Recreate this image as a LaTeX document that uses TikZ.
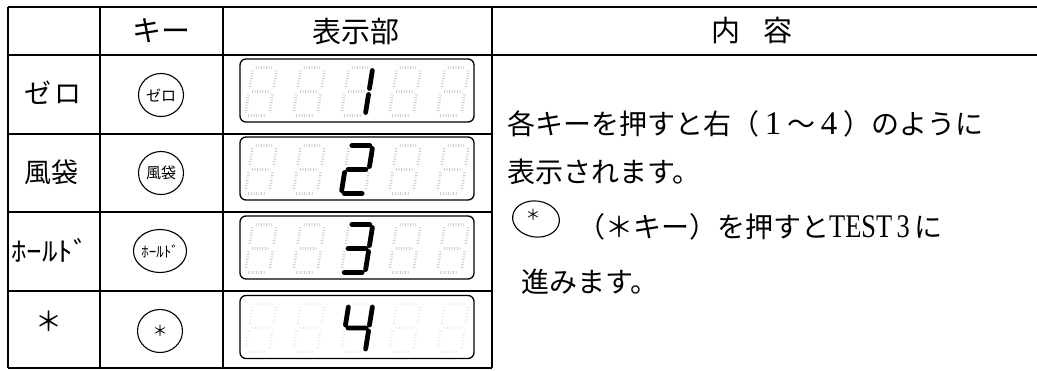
\documentclass[tikz,border=0pt]{standalone}
\usepackage{fontspec}
\usepackage{graphicx}
\usetikzlibrary{shapes.geometric}
\setmainfont{Liberation Serif}
\newfontfamily\jp{Noto Sans CJK JP}
\newfontfamily\lser{Liberation Serif}
\newcommand\fwd[1]{\makebox[1em]{\lser\fontsize{33}{33}\selectfont #1}}
\newcommand\SA{(-9,-24) -- (9,-24)}
\newcommand\SB{(12,-21) -- (12,-3)}
\newcommand\SC{(12,3) -- (12,21)}
\newcommand\SD{(-9,24) -- (9,24)}
\newcommand\SE{(-12,3) -- (-12,21)}
\newcommand\SF{(-12,-21) -- (-12,-3)}
\newcommand\SG{(-9,0) -- (9,0)}
\newcommand\ghostdigit[3]{\begin{scope}[shift={(#1,#2)},xslant=0.16]\draw[#3] \SA \SB \SC \SD \SE \SF \SG;\end{scope}}
\newcommand\litdigit[3]{\begin{scope}[shift={(#1,#2)},xslant=0.16]\draw[litseg] #3;\end{scope}}
\tikzset{
  rule/.style={line width=1.6pt, black},
  dispbox/.style={draw, line width=1.3pt, rounded corners=6pt},
  keycirc/.style={draw, ellipse, line width=1.1pt, minimum width=45pt, minimum height=43pt, inner sep=0pt, font=\jp\fontsize{15}{15}\selectfont},
  hdr/.style={font=\jp\fontsize{29}{32}\selectfont, inner sep=0pt},
  lbl/.style={font=\jp\fontsize{27}{30}\selectfont, inner sep=0pt},
  body/.style={font=\jp\fontsize{28}{30}\selectfont, inner sep=0pt, anchor=west},
  ghost/.style={draw=gray!45, line width=2.6pt, dash pattern=on 0.8pt off 1.8pt},
  ghostfaint/.style={draw=gray!22, line width=2.4pt, dash pattern=on 0.8pt off 2.4pt},
  litseg/.style={draw=black, line width=4.8pt, line cap=round},
}
\begin{document}
\begin{tikzpicture}[x=1pt,y=-1pt]
\useasboundingbox (0,0) rectangle (1037,370);
\fill[white] (0,0) rectangle (1037,370);
% table rules
\draw[rule] (8,7) -- (1037,7);
\draw[rule] (8,55) -- (1037,55);
\draw[rule] (8,134) -- (492,134);
\draw[rule] (8,212) -- (492,212);
\draw[rule] (8,291) -- (492,291);
\draw[rule] (8,368) -- (492,368);
\draw[rule] (8,7) -- (8,368);
\draw[rule] (100,7) -- (100,368);
\draw[rule] (223,7) -- (223,368);
\draw[rule] (492,7) -- (492,368);
% header
\node[hdr] (hkey) at (161,31) {キー};
\node[hdr] (hdisp) at (356,31) {表示部};
\node[hdr] (hcont) at (752,31) {内\hspace{0.8em}容};
% column 1
\node[lbl] (n1) at (53,93) {ゼ\hspace{4pt}ロ};
\node[lbl] (n2) at (51,172) {風袋};
\node[lbl, xscale=1.15] (n3) at (50,250) {ﾎｰﾙﾄﾞ};
\node[lbl] (n4) at (49,321) {＊};
% key circles
\node[keycirc] (k1) at (161,95) {ゼロ};
\node[keycirc] (k2) at (161,173) {風袋};
\node[keycirc] (k3) at (160,251) {ﾎｰﾙﾄﾞ};
\node[keycirc] (k4) at (160,331) {＊};
% display boxes
\node[dispbox, minimum width=234pt, minimum height=63pt] (d1) at (357,90.5) {};
\node[dispbox, minimum width=234pt, minimum height=63pt] (d2) at (357,168.5) {};
\node[dispbox, minimum width=234pt, minimum height=63pt] (d3) at (357,247.5) {};
\node[dispbox, minimum width=234pt, minimum height=63pt] (d4) at (357,327) {};
% ghost segments
\foreach \cx in {261,309,357,405,453} {
  \ghostdigit{\cx}{91.5}{ghost}
  \ghostdigit{\cx}{169.5}{ghost}
  \ghostdigit{\cx}{248.5}{ghost}
  \ghostdigit{\cx}{328}{ghostfaint}
}
% lit digits
\litdigit{357}{91.5}{\SB \SC}
\litdigit{357}{169.5}{\SA \SB \SG \SE \SD}
\litdigit{357}{248.5}{\SA \SB \SG \SC \SD}
\litdigit{357}{328}{\SF \SG \SB \SC}
% content text
\node[body] (t1) at (507,124) {各キーを押すと右（\fwd{1}～\fwd{4}）のように};
\node[body] (t2) at (507,172) {表示されます。};
\node[draw, ellipse, line width=1.1pt, minimum width=47pt, minimum height=36pt, inner sep=0pt, rotate=-8] (tk) at (536,219) {};
\node[font=\jp\fontsize{15}{15}\selectfont, inner sep=0pt] (tks) at (533,215) {＊};
\node[body] (t3) at (577,227) {（＊キー）を押すと{\lser\fontsize{33}{33}\selectfont\scalebox{0.8}[1]{TEST\,3}}\,に};
\node[body] (t4) at (521,282) {進みます。};
\end{tikzpicture}
\end{document}
